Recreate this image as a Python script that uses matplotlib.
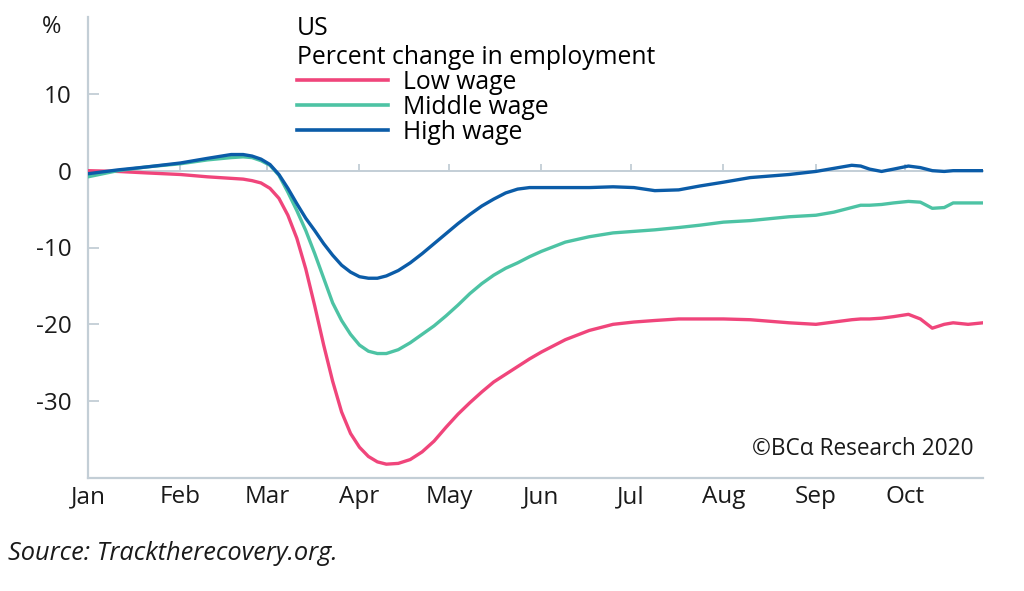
import matplotlib
matplotlib.use("Agg")
import matplotlib.pyplot as plt
from matplotlib.lines import Line2D

plt.rcParams['font.family'] = ['Open Sans', 'DejaVu Sans']
plt.rcParams['axes.unicode_minus'] = False

# ---- data (day of year 2020, percent change) ----
days = [0, 10, 20, 31, 40, 48, 52, 55, 58, 61, 64, 67, 70, 73, 76, 79, 82, 85, 88, 91,
        94, 97, 100, 104, 108, 112, 116, 120, 124, 128, 132, 136, 140, 144, 148, 152, 156,
        160, 168, 176, 183, 190, 198, 205, 213, 222, 235, 244, 250, 256, 259, 262, 266,
        270, 275, 279, 283, 287, 290, 295, 300]

high_wage = [-0.4, 0.1, 0.5, 1.0, 1.6, 2.1, 2.1, 1.9, 1.5, 0.8, -0.5, -2.3, -4.3, -6.2, -7.8,
             -9.5, -11.0, -12.3, -13.2, -13.8, -14.0, -14.0, -13.7, -13.0, -12.0, -10.8, -9.5,
             -8.2, -6.9, -5.7, -4.6, -3.7, -2.9, -2.4, -2.2, -2.2, -2.2, -2.2, -2.2, -2.1, -2.2,
             -2.6, -2.5, -2.0, -1.5, -0.9, -0.5, -0.1, 0.3, 0.7, 0.6, 0.2, -0.1, 0.2, 0.6, 0.4,
             0.0, -0.1, 0.0, 0.0, 0.0]

middle_wage = [-0.8, 0.0, 0.5, 0.9, 1.4, 1.7, 1.8, 1.7, 1.3, 0.7, -0.6, -2.8, -5.2, -7.8, -10.8,
               -14.0, -17.2, -19.5, -21.3, -22.7, -23.5, -23.8, -23.8, -23.3, -22.4, -21.3,
               -20.2, -18.9, -17.5, -16.0, -14.7, -13.6, -12.7, -12.0, -11.2, -10.5, -9.9, -9.3,
               -8.6, -8.1, -7.9, -7.7, -7.4, -7.1, -6.7, -6.5, -6.0, -5.8, -5.4, -4.8, -4.5,
               -4.5, -4.4, -4.2, -4.0, -4.1, -4.9, -4.8, -4.2, -4.2, -4.2]

low_wage = [0.0, -0.1, -0.3, -0.5, -0.8, -1.0, -1.1, -1.3, -1.6, -2.3, -3.6, -5.8, -8.8, -12.8,
            -17.6, -22.7, -27.4, -31.4, -34.2, -36.0, -37.2, -37.9, -38.2, -38.1, -37.6, -36.6,
            -35.2, -33.4, -31.7, -30.2, -28.8, -27.5, -26.5, -25.5, -24.5, -23.6, -22.8, -22.0,
            -20.8, -20.0, -19.7, -19.5, -19.3, -19.3, -19.3, -19.4, -19.8, -20.0, -19.7, -19.4,
            -19.3, -19.3, -19.2, -19.0, -18.7, -19.3, -20.5, -20.0, -19.8, -20.0, -19.8]

month_starts = [0, 31, 60, 91, 121, 152, 182, 213, 244, 274]
month_labels = ['Jan', 'Feb', 'Mar', 'Apr', 'May', 'Jun', 'Jul', 'Aug', 'Sep', 'Oct']
y_ticks = [10, 0, -10, -20, -30]
series_labels = ['Low wage', 'Middle wage', 'High wage']

# ---- style ----
c_low = '#F0457B'
c_mid = '#4DC3A4'
c_high = '#0B5CA8'
grid_c = '#C3CED6'
txt_c = '#1a1a1a'

fig = plt.figure(figsize=(10.24, 5.91), dpi=100)
ax = fig.add_axes([88 / 1024, 1 - 478 / 591, (983 - 88) / 1024, (478 - 17) / 591])

lw = 2.4
ax.plot(days, low_wage, color=c_low, lw=lw, zorder=3)
ax.plot(days, middle_wage, color=c_mid, lw=lw, zorder=3)
ax.plot(days, high_wage, color=c_high, lw=lw, zorder=4)

ax.set_xlim(0, 300)
ax.set_ylim(-40, 20)

for s in ['top', 'right']:
    ax.spines[s].set_visible(False)
for s in ['left', 'bottom']:
    ax.spines[s].set_color(grid_c)
    ax.spines[s].set_linewidth(1.6)

ax.set_yticks(y_ticks)
ax.set_yticklabels([str(v) for v in y_ticks])
ax.tick_params(axis='y', direction='in', length=8, width=1.3, color=grid_c,
               labelsize=17.5, pad=12, labelcolor=txt_c)
ax.set_xticks(month_starts)
ax.set_xticklabels(month_labels)
ax.tick_params(axis='x', length=0, labelsize=17.5, pad=5, labelcolor=txt_c)

# zero line with month ticks
sec = ax.secondary_xaxis(0, transform=ax.transData)
sec.set_xticks(month_starts)
sec.tick_params(axis='x', direction='in', length=5, width=1.3, color=grid_c,
                labelbottom=False, labeltop=False)
for s in sec.spines.values():
    s.set_color(grid_c)
    s.set_linewidth(1.4)
sec.set_zorder(1)

# legend
handles = [Line2D([], [], color=c, lw=2.6) for c in (c_low, c_mid, c_high)]
leg = ax.legend(handles, series_labels, title='US\nPercent change in employment',
                loc='upper left', bbox_to_anchor=(297 / 1024, 1 - 16 / 591),
                bbox_transform=fig.transFigure, frameon=False, fontsize=17.8,
                title_fontsize=17.8, alignment='left', handlelength=3.7,
                handletextpad=0.58, labelspacing=0.0, borderpad=0, borderaxespad=0)
leg._legend_box.sep = 0

fig.text(52 / 1024, 1 - 27 / 591, '%', ha='center', va='center', fontsize=17, color=txt_c)
ax.text(0.989, 0.063, '©BCα Research 2020', transform=ax.transAxes, ha='right',
        va='center', fontsize=16.3, color=txt_c)
fig.text(8 / 1024, 1 - 553 / 591, 'Source: Tracktherecovery.org.', style='italic',
         ha='left', va='center', fontsize=18.3, color=txt_c)

fig.savefig('out.png', dpi=100)
